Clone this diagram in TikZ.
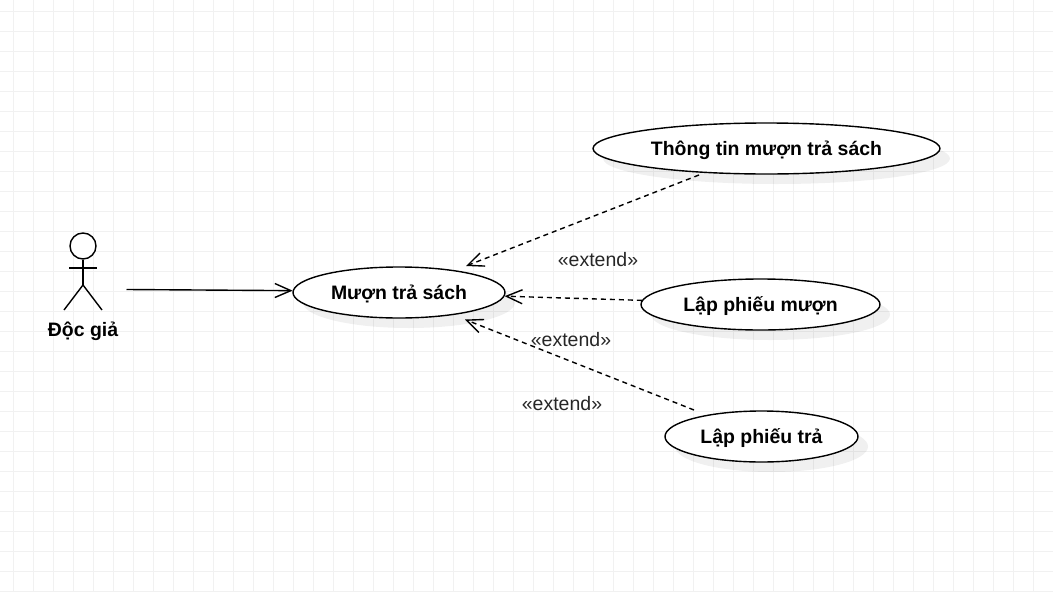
\documentclass[tikz,border=0pt]{standalone}
\usepackage{fontspec}
\setmainfont{Liberation Sans}
\usetikzlibrary{arrows.meta,shapes.geometric,shadows}

\tikzset{
    usecase/.style={ellipse, draw=black, fill=white, line width=1.4pt, inner sep=0pt,
        minimum height=51pt, text height=15pt, text depth=2pt, font=\fontsize{19.45}{24}\selectfont\bfseries,
        general shadow={shadow xshift=10pt, shadow yshift=-10pt, draw=none, fill=black, fill opacity=.06}},
    stickman/.style={line width=1.4pt},
    assoc/.style={line width=1.4pt, -{Straight Barb[length=16pt,width=14pt]}},
    extends/.style={assoc, dashed, dash pattern=on 5pt off 4pt},
    stereo/.style={font=\fontsize{19.5}{24}\selectfont, text=black!85},
}

\begin{document}
\begin{tikzpicture}[x=1pt,y=-1pt]
    \useasboundingbox (0,0) rectangle (1053,592);
    % grid
    \foreach \gx in {13,33,...,1053} {
        \draw[black!5.5, line width=1pt] (\gx,0) -- (\gx,592);
    }
    \foreach \gy in {11,31,...,592} {
        \draw[black!5.5, line width=1pt] (0,\gy) -- (1053,\gy);
    }

    % actor
    \node [circle, draw=black, line width=1.4pt, fill=white, minimum size=26pt, inner sep=0pt] (head) at (83,246) {};
    \coordinate (hip) at (83,285);
    \coordinate (armL) at (69,268);
    \coordinate (armR) at (97,268);
    \coordinate (legL) at (64,310);
    \coordinate (legR) at (102,310);
    \draw[stickman] (head.south) -- (hip);
    \draw[stickman] (armL) -- (armR);
    \draw[stickman] (legL) -- (hip) -- (legR);
    \node [font=\fontsize{19.45}{24}\selectfont\bfseries] (docgia) at (83,331) {Độc giả};

    % use cases
    \node [usecase, minimum width=212pt] (muon) at (399,292.5) {Mượn trả sách};
    \node [usecase, minimum width=347pt] (thongtin) at (766.5,148.5) {Thông tin mượn trả sách};
    \node [usecase, minimum width=239pt] (phieumuon) at (760.5,304.5) {Lập phiếu mượn};
    \node [usecase, minimum width=193pt] (phieutra) at (761.5,436.5) {Lập phiếu trả};

    % connectors
    \coordinate (actorout) at (126.5,289.5);
    \coordinate (tipthongtin) at (466,266);
    \coordinate (tipphieutra) at (465,319.5);
    \coordinate (startthongtin) at (699,175);
    \coordinate (startphieutra) at (694,410);
    \draw[assoc] (actorout) -- (muon.179);
    \draw[extends] (startthongtin) -- (tipthongtin);
    \draw[extends] (phieumuon.178) -- (muon.-2);
    \draw[extends] (startphieutra) -- (tipphieutra);

    % labels
    \node [stereo] (ext1) at (598,259.5) {«extend»};
    \node [stereo] (ext2) at (571,339.5) {«extend»};
    \node [stereo] (ext3) at (562,403.5) {«extend»};
\end{tikzpicture}
\end{document}
